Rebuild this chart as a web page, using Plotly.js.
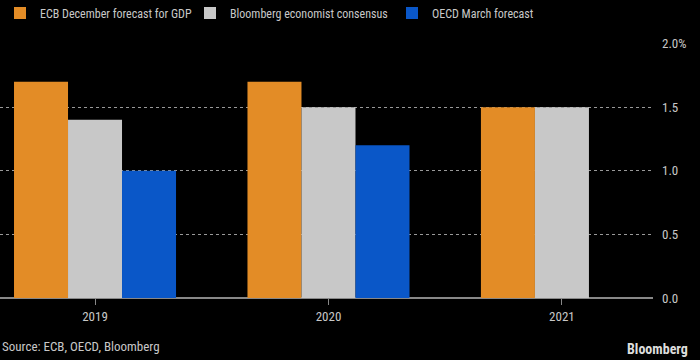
<!DOCTYPE html>
<html><head><meta charset="utf-8">
<script src="https://cdn.plot.ly/plotly-3.0.1.min.js"></script>
<style>html,body{margin:0;padding:0;background:#000;}</style>
</head><body><div id="chart" style="width:700px;height:360px;"></div>
<script>
var years = ['2019', '2020', '2021'];
var ecbDecember = [1.7, 1.7, 1.5];
var bloombergConsensus = [1.4, 1.5, 1.5];
var oecdMarch = [1.0, 1.2, null];
var seriesNames = ['ECB December forecast for GDP', 'Bloomberg economist consensus', 'OECD March forecast'];
var yTickVals = [0, 0.5, 1.0, 1.5, 2.0];
var yTickText = ['0.0', '0.5', '1.0', '1.5', '2.0%'];

var FONT = '"Roboto Condensed", "DejaVu Sans Condensed", sans-serif';
function f(size, color){ return {family:FONT, size:size, color:color||'#c8c8c8'}; }
var colors = ['#e38c26', '#c8c8c8', '#0a57c8'];
var legendIds = ['legend', 'legend2', 'legend3'];
var legendLeftPx = [-10, 190, 392];
var series = [ecbDecember, bloombergConsensus, oecdMarch];
var traces = series.map(function(v, i){
  return {type:'bar', x: years, y: v, name: seriesNames[i], legend: legendIds[i],
          marker:{color: colors[i], line:{width:0}}, hoverinfo:'skip'};
});
var layout = {
  width:700, height:360,
  paper_bgcolor:'#000', plot_bgcolor:'#000',
  margin:{l:0, r:47, t:43, b:62},
  barmode:'group', bargap:0.306, bargroupgap:0,
  font:f(13),
  showlegend:true,
  xaxis:{type:'category', range:[-0.407, 2.39], showgrid:false, zeroline:false, showline:false,
         ticks:'outside', ticklen:6, tickcolor:'#888', tickwidth:1,
         tickfont:f(13), fixedrange:true},
  yaxis:{side:'right', range:[0, 2.004], tickvals:yTickVals, ticktext:yTickText,
         showgrid:true, gridcolor:'#999', griddash:'dot', gridwidth:1,
         zeroline:true, zerolinecolor:'#888', zerolinewidth:2,
         showline:false, ticks:'', ticklabelstandoff:8,
         tickfont:f(13), fixedrange:true},
  annotations:[
    {text:'Source: ECB, OECD, Bloomberg', xref:'paper', yref:'paper', x:0, y:-0.19, xanchor:'left', yanchor:'middle',
     showarrow:false, font:f(13)},
    {text:'<b>Bloomberg</b>', xref:'paper', yref:'paper', x:1.057, y:-0.2, xanchor:'right', yanchor:'middle',
     showarrow:false, font:f(14, '#dddddd')}
  ]
};
legendIds.forEach(function(id, i){
  layout[id] = {orientation:'h', xref:'container', x: legendLeftPx[i] / 700, xanchor:'left',
                yref:'container', y:0.964, yanchor:'middle',
                font:f(12), bgcolor:'rgba(0,0,0,0)', itemwidth:30};
});
Plotly.newPlot('chart', traces, layout, {displayModeBar:false, staticPlot:true});
</script></body></html>
